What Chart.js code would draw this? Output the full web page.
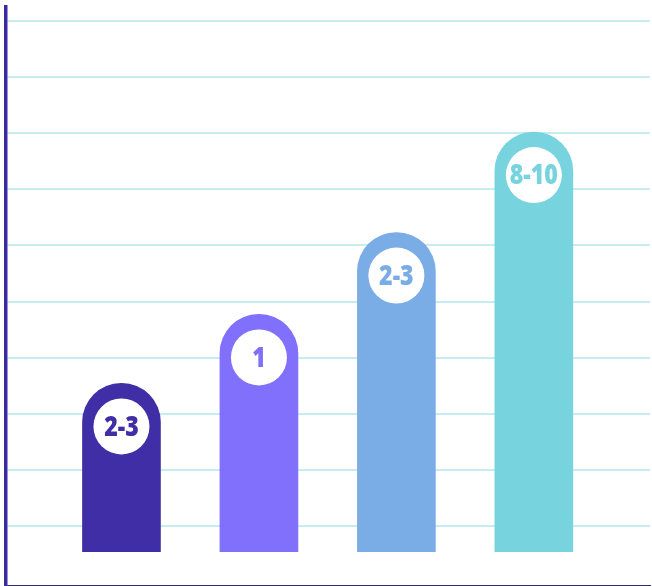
<!DOCTYPE html>
<html>
<head>
<meta charset="utf-8">
<script src="https://cdn.jsdelivr.net/npm/chart.js@4"></script>
<style>
  html, body { margin: 0; padding: 0; background: #ffffff; }
  #wrap { width: 652px; height: 586px; }
</style>
</head>
<body>
<div id="wrap"><canvas id="chart"></canvas></div>
<script>
// Chart data
const categories = ["A", "B", "C", "D"];
const barLabels = ["2-3", "1", "2-3", "8-10"];
const barBase = [0.54, 0.54, 0.54, 0.54];
const barTop = [3.54, 4.77, 6.23, 8.02];
const barColors = ["#402ea6", "#8070fb", "#7aade6", "#77d4de"];
const gridTicks = [1, 2, 3, 4, 5, 6, 7, 8, 9, 10];

// Build floating bar points, one per category
const points = categories.map((c, i) => ({ x: i, y: [barBase[i], barTop[i]] }));

// Draw the white circle with the label near the top of each bar
const badgePlugin = {
    id: "badges",
    afterDatasetsDraw(chart) {
        const ctx = chart.ctx;
        const meta = chart.getDatasetMeta(0);
        meta.data.forEach((bar, i) => {
            const cx = bar.x;
            const cy = bar.y + 43;
            ctx.save();
            ctx.beginPath();
            ctx.arc(cx, cy, 28, 0, Math.PI * 2);
            ctx.fillStyle = "#ffffff";
            ctx.fill();
            ctx.translate(cx, cy + 1);
            ctx.scale(0.8, 1);
            ctx.fillStyle = barColors[i];
            ctx.font = "800 29px 'Open Sans'";
            ctx.textAlign = "center";
            ctx.textBaseline = "middle";
            ctx.fillText(barLabels[i], 0, 0);
            ctx.restore();
        });
    }
};

const ctx = document.getElementById("chart").getContext("2d");
new Chart(ctx, {
    type: "bar",
    data: {
        datasets: [{
            data: points,
            backgroundColor: barColors,
            borderWidth: 0,
            borderSkipped: false,
            borderRadius: { topLeft: 40, topRight: 40, bottomLeft: 0, bottomRight: 0 },
            barThickness: 78
        }]
    },
    options: {
        responsive: true,
        maintainAspectRatio: false,
        animation: false,
        layout: { padding: { top: 7, left: 6, right: 2, bottom: 0 } },
        plugins: {
            legend: { display: false },
            tooltip: { enabled: false }
        },
        scales: {
            x: {
                type: "linear",
                offset: false,
                min: -0.84,
                max: 3.845,
                ticks: { display: false },
                grid: { display: false, drawTicks: false, offset: false },
                border: { display: true, color: "#2e2a6e", width: 1.5 }
            },
            y: {
                min: -0.071,
                max: 10.25,
                afterBuildTicks: (scale) => {
                    scale.ticks = gridTicks.map(v => ({ value: v }));
                },
                ticks: { display: false },
                grid: { color: "#c6ecf0", lineWidth: 2, drawTicks: false },
                border: { display: true, color: "#3c2aa0", width: 3.5 }
            }
        }
    },
    plugins: [badgePlugin]
});
</script>
</body>
</html>
